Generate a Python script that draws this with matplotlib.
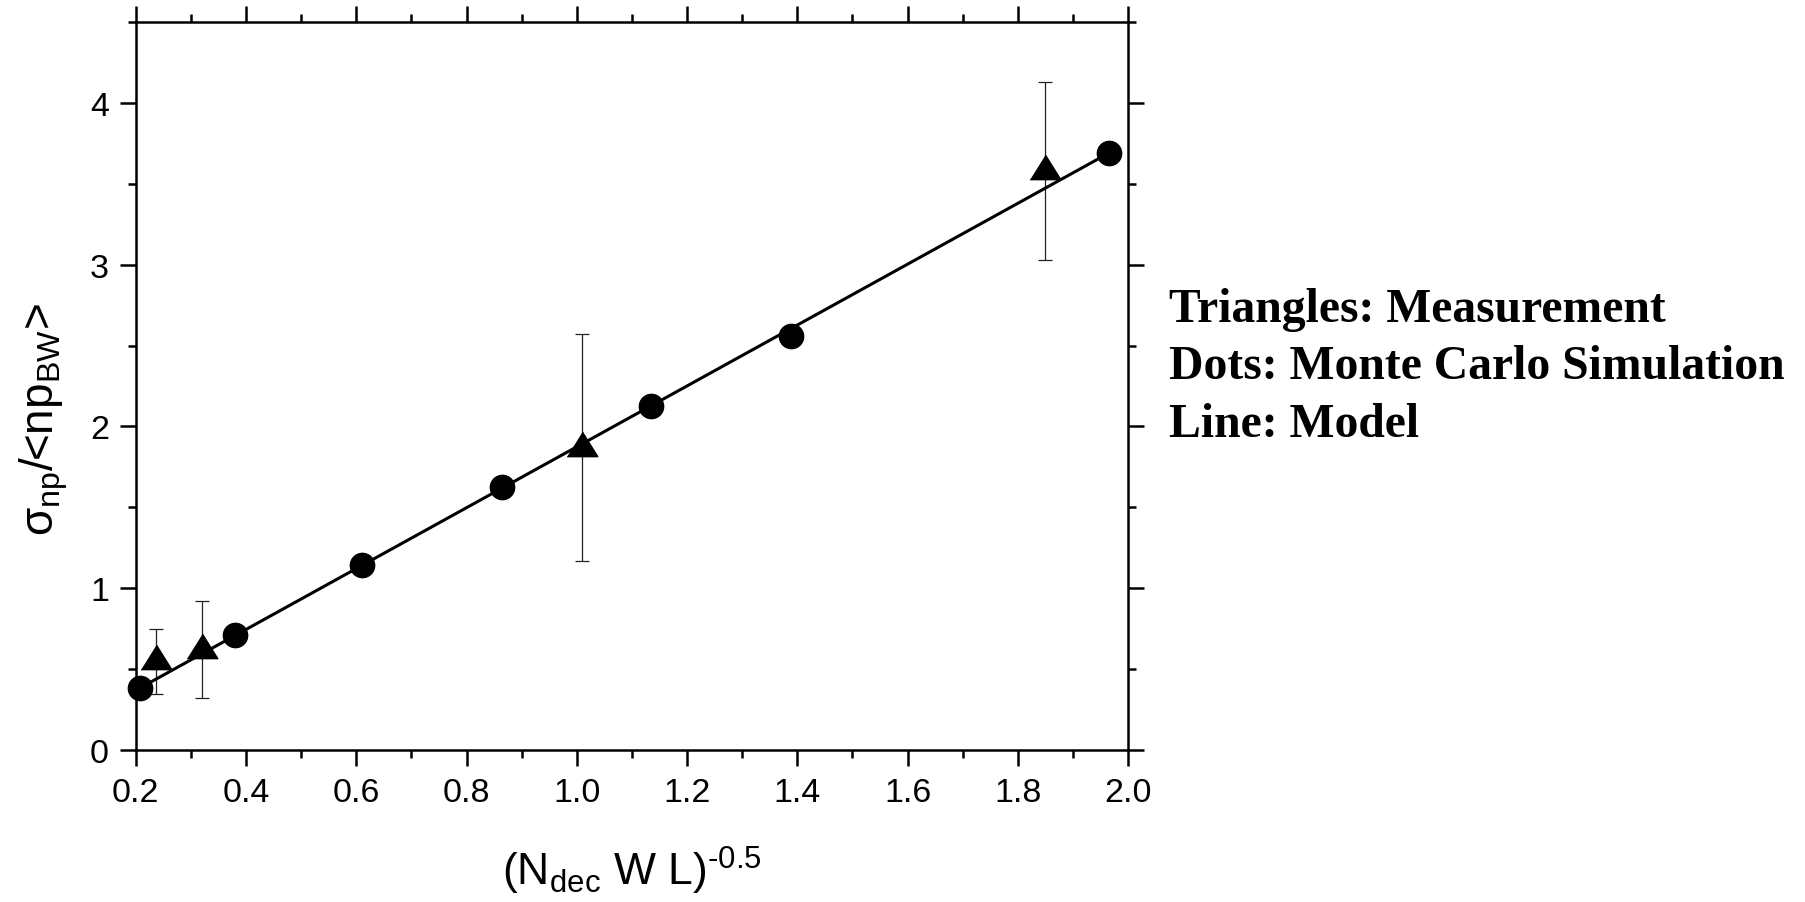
import matplotlib
matplotlib.use("Agg")
import matplotlib.pyplot as plt
from matplotlib.ticker import MultipleLocator, FormatStrFormatter

plt.rcParams['font.family'] = ['Liberation Sans', 'DejaVu Sans']
plt.rcParams['mathtext.fontset'] = 'custom'
plt.rcParams['mathtext.rm'] = 'Liberation Sans'
plt.rcParams['mathtext.it'] = 'Liberation Sans:italic'

# Monte Carlo simulation (dots)
sim_x = [0.208, 0.380, 0.611, 0.864, 1.135, 1.388, 1.965]
sim_y = [0.384, 0.712, 1.146, 1.623, 2.128, 2.562, 3.690]

# measurement (triangles) with error bars
meas_x = [0.236, 0.320, 1.010, 1.850]
meas_y = [0.549, 0.619, 1.869, 3.578]
meas_err = [0.200, 0.300, 0.700, 0.550]

# model line end points
model_x = [0.208, 1.965]
model_y = [0.384, 3.690]

notes = ["Triangles: Measurement", "Dots: Monte Carlo Simulation", "Line: Model"]

fig = plt.figure(figsize=(18.05, 9.03), dpi=100)
ax = fig.add_axes([0.0752, 0.1683, 0.5498, 0.8062])

# triangle anchored at its centroid, wider than tall
tri = [(-1, -0.533), (1, -0.533), (0, 1.067)]

ax.plot(model_x, model_y, color='black', lw=2.2, zorder=2, clip_on=False)
ax.errorbar(meas_x, meas_y, yerr=meas_err, fmt='none', ecolor='#222222',
            elinewidth=0.9, capsize=5.2, capthick=0.9, zorder=1)
ax.plot(meas_x, meas_y, linestyle='none', marker=tri, markersize=23.5,
        color='black', zorder=3, clip_on=False)
ax.plot(sim_x, sim_y, linestyle='none', marker='o', markersize=17.5,
        color='black', zorder=4, clip_on=False)

ax.set_xlim(0.2, 2.0)
ax.set_ylim(0, 4.5)
ax.xaxis.set_major_locator(MultipleLocator(0.2))
ax.xaxis.set_minor_locator(MultipleLocator(0.1))
ax.yaxis.set_major_locator(MultipleLocator(1))
ax.yaxis.set_minor_locator(MultipleLocator(0.5))
ax.xaxis.set_major_formatter(FormatStrFormatter('%.1f'))

for s in ax.spines.values():
    s.set_linewidth(1.8)
ax.tick_params(which='both', direction='out', top=True, right=True, width=1.8)
ax.tick_params(which='major', length=11.2, labelsize=24.5, pad=8)
ax.tick_params(which='minor', length=5.8)

ax.set_xlabel(r'$\text{(N}_{\text{dec}}\text{ W L)}^{\text{-0.5}}$', fontsize=32)
ax.set_ylabel(r'$\mathrm{\sigma}_{\text{np}}\text{/<np}_{\text{BW}}\text{>}$', fontsize=33)
ax.xaxis.set_label_coords(0.5, -0.129)
ax.yaxis.set_label_coords(-0.066, 0.456)

for i, line in enumerate(notes):
    fig.text(1169 / 1805, 1 - (321.7 + 57.5 * i) / 903, line,
             family=['Liberation Serif', 'DejaVu Serif'], weight='bold',
             fontsize=34.3, va='baseline', ha='left')

fig.savefig('out.png', dpi=100)
